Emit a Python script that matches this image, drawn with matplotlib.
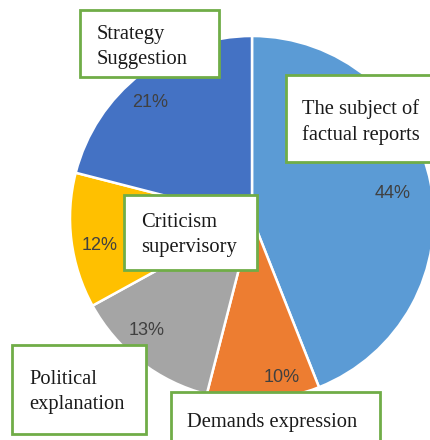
import matplotlib
matplotlib.use("Agg")
import matplotlib.pyplot as plt
from matplotlib.patches import Rectangle

categories = ["The subject of\nfactual reports", "Demands expression", "Political\nexplanation",
              "Criticism\nsupervisory", "Strategy\nSuggestion"]
values = [44, 10, 13, 12, 21]
colors = ["#5B9BD5", "#ED7D31", "#A5A5A5", "#FFC000", "#4472C4"]

W, H = 431, 440
fig = plt.figure(figsize=(W / 100, H / 100), dpi=100)
ax = fig.add_axes([0, 0, 1, 1])
ax.set_xlim(0, W)
ax.set_ylim(0, H)
ax.set_aspect("equal")
ax.axis("off")

def Y(y):
    return H - y

wedges, texts, autotexts = ax.pie(
    values, colors=colors, startangle=90, counterclock=False,
    center=(252, Y(218)), radius=182, autopct="%.0f%%", pctdistance=0.83,
    wedgeprops=dict(edgecolor="white", linewidth=1.8),
    textprops=dict(color="#404040", fontsize=13, family="Liberation Sans"))
ax.set_xlim(0, W)
ax.set_ylim(0, H)

# percentage label placement (pixels)
pct_pos = [(393, 193), (282, 378), (147, 330), (100, 245), (150, 102)]
for t, (px, py) in zip(autotexts, pct_pos):
    t.set_position((px, Y(py)))
    t.set_ha("center")
    t.set_va("center")

# box geometry (pixels): x0, y0, x1, y1, text x, text block center y
boxes = [
    (286, 75, 440, 162, 302, 122),
    (171, 392, 380, 450, 187, 422),
    (12, 345, 146, 434, 29, 392),
    (124, 195, 257, 270, 141, 235),
    (80, 10, 219, 77, 97, 47),
]
for (x0, y0, x1, y1, tx, ty), label in zip(boxes, categories):
    ax.add_patch(Rectangle((x0, Y(y1)), x1 - x0, y1 - y0, facecolor="white",
                           edgecolor="#70AD47", linewidth=2, zorder=5))
    ax.text(tx, Y(ty), label, ha="left", va="center", fontsize=14.8,
            family="Liberation Serif", color="#1a1a1a", linespacing=1.45, zorder=6)

fig.savefig("out.png", dpi=100)
